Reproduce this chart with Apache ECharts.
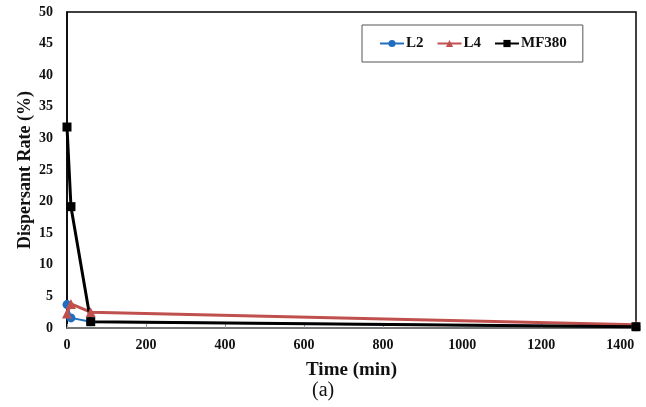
<!DOCTYPE html>
<html>
<head>
<meta charset="utf-8">
<script src="https://cdn.jsdelivr.net/npm/echarts@6/dist/echarts.min.js"></script>
<style>
  html, body { margin: 0; padding: 0; background: #fff; }
  #chart { width: 646px; height: 407px; }
</style>
</head>
<body>
<div id="chart"></div>
<script>
  // time points (min)
  const times = [0, 10, 60, 1440]
  // dispersant rate (%)
  const l2 = [3.7, 1.6, 1.0, 0.2]
  const l4 = [2.3, 3.8, 2.5, 0.5]
  const mf380 = [31.8, 19.2, 1.0, 0.2]

  const font = 'Liberation Serif'
  const pairs = vals => times.map((t, i) => [t, vals[i]])

  const chart = echarts.init(document.getElementById('chart'))
  chart.setOption({
    animation: false,
    grid: { left: 67, right: 10, top: 12, bottom: 79, outerBoundsMode: 'none',
      show: true, borderColor: '#000', borderWidth: 1.5 },
    legend: {
      top: 25, left: 362,
      itemWidth: 24, itemHeight: 9, itemGap: 13,
      borderColor: '#555', borderWidth: 1,
      padding: [11, 16, 11, 17],
      textStyle: { fontFamily: font, fontWeight: 'bold', fontSize: 15, color: '#111', padding: [0, 0, 0, -3] },
      data: ['L2', 'L4', 'MF380']
    },
    xAxis: {
      type: 'value', min: 0, max: 1440, interval: 200,
      name: 'Time (min)', nameLocation: 'middle', nameGap: 33,
      nameTextStyle: { fontFamily: font, fontWeight: 'bold', fontSize: 19, color: '#111' },
      axisLine: { lineStyle: { color: '#888', width: 1.5 } },
      axisTick: { show: true, inside: true, length: 4, lineStyle: { color: '#999' } },
      axisLabel: { fontFamily: font, fontWeight: 'bold', fontSize: 14, color: '#111', margin: 10,
        formatter: v => (v % 200 === 0 ? v : '') },
      splitLine: { show: false }
    },
    yAxis: {
      type: 'value', min: 0, max: 50, interval: 5,
      name: 'Dispersant Rate (%)', nameLocation: 'middle', nameGap: 33, nameMoveOverlap: false,
      nameTextStyle: { fontFamily: font, fontWeight: 'bold', fontSize: 18, color: '#111' },
      axisLine: { show: true, lineStyle: { color: '#000', width: 1.5 } },
      axisTick: { show: false },
      axisLabel: { fontFamily: font, fontWeight: 'bold', fontSize: 14, color: '#111', margin: 14 },
      splitLine: { show: false }
    },
    series: [
      {
        name: 'L2', type: 'line', data: pairs(l2),
        symbol: 'circle', symbolSize: 9,
        itemStyle: { color: '#1f6fc0' }, lineStyle: { color: '#1f6fc0', width: 2 }
      },
      {
        name: 'L4', type: 'line', data: pairs(l4),
        symbol: 'triangle', symbolSize: 10,
        itemStyle: { color: '#c0504d' }, lineStyle: { color: '#c0504d', width: 3 }
      },
      {
        name: 'MF380', type: 'line', data: pairs(mf380),
        symbol: 'rect', symbolSize: 9,
        itemStyle: { color: '#000' }, lineStyle: { color: '#000', width: 3 }
      }
    ],
    graphic: [{
      type: 'text', left: 312, top: 381,
      style: { text: '(a)', font: '20px "Liberation Serif"', fill: '#111' }
    }]
  })
</script>
</body>
</html>
